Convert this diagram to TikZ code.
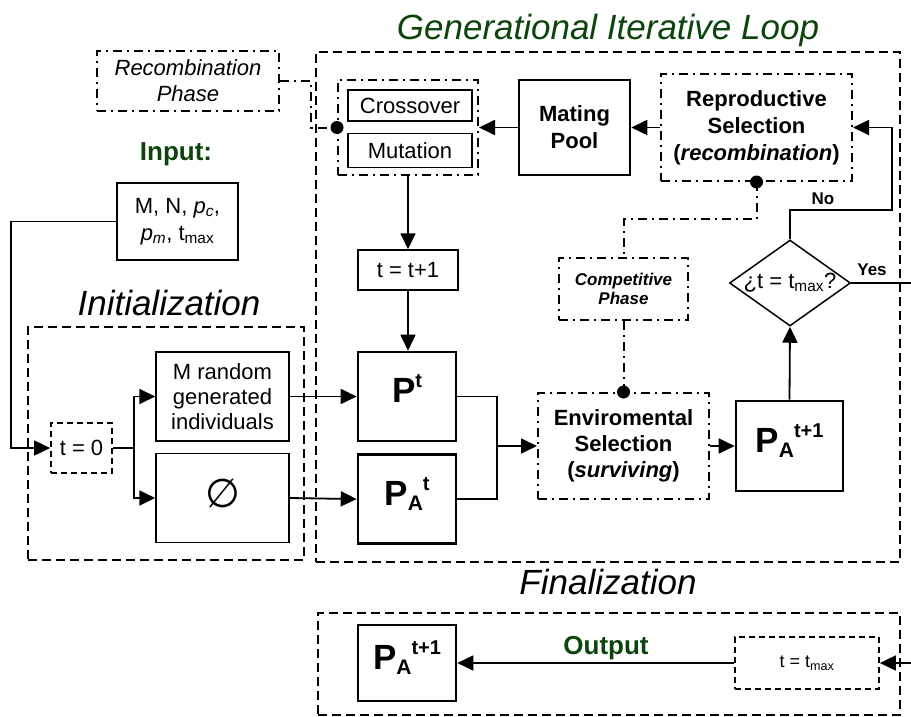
\documentclass[tikz,border=0pt]{standalone}
\usepackage{fontspec}
\setmainfont{Liberation Sans}
\newfontfamily\emptyfont{DejaVu Sans}
\usetikzlibrary{positioning}
\usetikzlibrary{arrows.meta,shapes.geometric}
\definecolor{loopgreen}{RGB}{12,68,12}
\newcommand{\popul}[2]{P\raisebox{-5pt}{\fontsize{21}{21}\selectfont #1}\raisebox{15pt}{\fontsize{20}{20}\selectfont #2}}

\begin{document}
\begin{tikzpicture}[x=1pt,y=-1pt,node distance=11pt,
  every node/.style={font=\fontsize{22}{25}\selectfont},
  box/.style={draw,line width=1.5pt,inner sep=0pt,align=center},
  popbox/.style={box,line width=2.6pt,minimum width=98pt,text depth=16pt,font=\bfseries\fontsize{35}{35}\selectfont},
  phase/.style={draw,line width=2pt,dash pattern=on 9pt off 5pt on 2pt off 5pt,inner sep=0pt,align=center},
  frame/.style={draw,line width=2.3pt,dash pattern=on 9pt off 5pt,inner sep=0pt},
  tbox/.style={draw,line width=1.7pt,dash pattern=on 6pt off 4pt,inner sep=0pt,align=center},
  title/.style={font=\itshape\fontsize{35}{35}\selectfont},
  flow/.style={line width=1.8pt,-{Triangle[length=16pt,width=15pt]}},
  link/.style={line width=1.8pt},
  phaselink/.style={line width=2pt,dash pattern=on 9pt off 5pt on 2pt off 5pt},
  joint/.style={circle,fill,inner sep=0pt,minimum size=13pt},
  greenlab/.style={text=loopgreen,font=\bfseries\fontsize{26}{26}\selectfont},
  yesno/.style={font=\bfseries\fontsize{17}{17}\selectfont}]
\useasboundingbox (0,0) rectangle (911,717);

% frames
\node[frame,minimum width=584pt,minimum height=510pt] (loopfr) at (608,307) {};
\node[frame,minimum width=276pt,minimum height=233pt] (initfr) at (166,443.5) {};
\node[frame,minimum width=582pt,minimum height=102pt] (finfr) at (609,664) {};
\node[title,text=loopgreen] (looptitle) at (608,30) {Generational Iterative Loop};
\node[title] (inittitle) at (169,303) {Initialization};
\node[title] (fintitle) at (608,582) {Finalization};

% input and initialization
\node[greenlab] (inlab) at (176,154) {Input:};
\node[box,minimum width=121pt,minimum height=77pt,font=\fontsize{22}{27}\selectfont] (input) at (177.5,221.5)
  {M, N, \textit{p}\textsubscript{\textit{c}},\\\textit{p}\textsubscript{\textit{m}}, t\textsubscript{max}};
\node[tbox,minimum width=61pt,minimum height=50pt] (tzero) at (81.5,448) {t = 0};
\node[box,minimum width=133pt,minimum height=89pt] (mrand) at (222.5,396.5) {M random\\generated\\individuals};
\node[box,minimum width=133pt,minimum height=89pt,below=of mrand,text depth=10pt,font=\emptyfont\fontsize{40}{40}\selectfont] (empty) {∅};

% loop
\node[phase,minimum width=182pt,minimum height=60pt,font=\itshape\fontsize{22}{26}\selectfont] (recph) at (188,81) {Recombination\\Phase};
\node[phase,minimum width=140pt,minimum height=95pt] (grp) at (408,127.5) {};
\node[box,minimum width=124pt,minimum height=31pt] (cross) at (410,105.5) {Crossover};
\node[box,minimum width=124pt,minimum height=34pt,below=of cross] (mut) {Mutation};
\node[box,line width=2.6pt,minimum width=111pt,minimum height=95pt,font=\bfseries\fontsize{22}{27}\selectfont] (pool) at (574.5,127.5) {Mating\\Pool};
\node[phase,minimum width=191pt,minimum height=107pt,font=\bfseries\fontsize{22}{27}\selectfont] (repsel) at (756.5,127.5) {Reproductive\\Selection\\(\textit{recombination})};
\node[phase,minimum width=129pt,minimum height=62pt,font=\bfseries\itshape\fontsize{17}{19}\selectfont] (compph) at (623.5,289) {Competitive\\Phase};
\node[phase,minimum width=171pt,minimum height=106pt,font=\bfseries\fontsize{22}{26}\selectfont] (envsel) at (623.5,446) {Enviromental\\Selection\\(\textit{surviving})};
\node[box,minimum width=100pt,minimum height=40pt] (tinc) at (408,270) {t = t+1};
\node[popbox,minimum height=89pt] (pt) at (407,396.5) {\popul{}{t}};
\node[popbox,minimum height=89pt,below=of pt] (pat) {\popul{A}{t}};
\node[popbox,minimum width=107pt,minimum height=90pt] (patnext) at (789.5,446) {\popul{A}{t+1}};
\node[draw,diamond,line width=1.5pt,aspect=1.4,inner sep=0pt,minimum width=121pt,minimum height=86pt] (cond) at (790,283) {¿t = t\textsubscript{max}?};

% finalization
\node[popbox,minimum height=76pt] (fpa) at (407,663) {\popul{A}{t+1}};
\node[tbox,minimum width=144pt,minimum height=52pt,font=\fontsize{18}{18}\selectfont] (ftmax) at (807,663) {t = t\textsubscript{max}};

\coordinate (merge) at (497,446);
\coordinate (nobend) at (892,210);
\coordinate (yesend) at (911,283);
\coordinate (finin) at (911,663);

% connectors
\draw[flow] (input.west) -- ++(-105,0) |- (tzero.west);
\draw[flow] (tzero.east) -- ++(21,0) |- (mrand.west);
\draw[flow] (tzero.east) -- ++(21,0) |- (empty.west);
\draw[flow] (mrand.east) -- (pt.west);
\draw[flow] (empty.east) -- (pat.west);
\draw[link] (pt.east) -| (merge);
\draw[link] (pat.east) -| (merge);
\draw[flow] (merge) -- (envsel.west);
\draw[flow] (envsel.east) -- (patnext.west);
\draw[flow] (patnext.north) -- (cond.south);
\draw[flow] (cond.north) |- (nobend) |- (repsel.east);
\node[yesno] (nolab) at (823,199) {No};
\draw[link] (cond.east) -- (yesend);
\node[yesno] (yeslab) at (872,270) {Yes};
\draw[flow] (repsel.west) -- (pool.east);
\draw[flow] (pool.west) -- (grp.east);
\draw[flow] (grp.south) -- (tinc.north);
\draw[flow] (tinc.south) -- (tinc.south |- pt.north);
\draw[flow] (finin) -- (ftmax.east);
\draw[flow] (ftmax.west) -- (fpa.east);
\node[greenlab] (outlab) at (606,648) {Output};

% phase links
\draw[phaselink] (recph.east) -- ++(31,0) |- (grp.west);
\draw[phaselink] (repsel.south) -- ++(0,37) -| (compph.north);
\draw[phaselink] (compph.south) -- (envsel.north);
\node[joint] (dota) at (grp.west) {};
\node[joint] (dotb) at (repsel.south) {};
\node[joint] (dotc) at (envsel.north) {};
\end{tikzpicture}
\end{document}
